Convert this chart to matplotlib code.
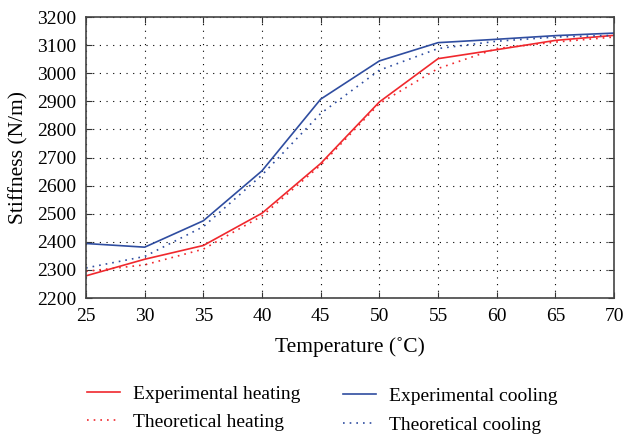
import matplotlib
matplotlib.use("Agg")
import matplotlib.pyplot as plt

temps = [25, 30, 35, 40, 45, 50, 55, 60, 65, 70]
exp_heating = [2279, 2338, 2387, 2502, 2679, 2898, 3052, 3084, 3117, 3135]
theo_heating = [2295, 2318, 2374, 2492, 2673, 2892, 3017, 3088, 3111, 3129]
exp_cooling = [2394, 2381, 2475, 2653, 2908, 3044, 3109, 3121, 3134, 3143]
theo_cooling = [2307, 2348, 2454, 2638, 2857, 3011, 3088, 3114, 3129, 3135]

plt.rcParams['font.family'] = ['Liberation Serif', 'DejaVu Serif']
red = '#f0282d'
blue = '#2f4da0'

fig = plt.figure(figsize=(6.26, 4.38), dpi=100)
ax = fig.add_axes([0.1374, 0.3196, 0.8436, 0.6414])

l1, = ax.plot(temps, exp_heating, color=red, lw=1.2, label='Experimental heating')
l2, = ax.plot(temps, theo_heating, color=red, lw=1.2, ls=(0, (1, 3)), label='Theoretical heating')
l3, = ax.plot(temps, exp_cooling, color=blue, lw=1.2, label='Experimental cooling')
l4, = ax.plot(temps, theo_cooling, color=blue, lw=1.2, ls=(0, (1, 3)), label='Theoretical cooling')

ax.set_xlim(25, 70)
ax.set_ylim(2200, 3200)
ax.set_xticks(range(25, 71, 5))
ax.set_yticks(range(2200, 3201, 100))
ax.grid(True, color='black', ls=(0, (1, 5)), lw=0.8)
ax.tick_params(direction='in', top=True, right=True, labelsize=14, length=4, color='#333333')
ax.tick_params(axis='x', pad=7)
ax.tick_params(axis='y', pad=7)
for s in ax.spines.values():
    s.set_color('#444444')
    s.set_linewidth(1.2)
ax.set_xlabel('Temperature (˚C)', fontsize=15.5, labelpad=9)
ax.set_ylabel('Stiffness (N/m)', fontsize=15.5, labelpad=6)

common = dict(frameon=False, fontsize=14, handlelength=1.7, labelspacing=0.55,
              handletextpad=0.65, borderaxespad=0, borderpad=0)
leg1 = fig.legend(handles=[l1, l2], loc='upper left', bbox_to_anchor=(0.139, 0.121), **common)
leg2 = fig.legend(handles=[l3, l4], loc='upper left', bbox_to_anchor=(0.548, 0.115), **common)

fig.savefig('out.png', dpi=100)
